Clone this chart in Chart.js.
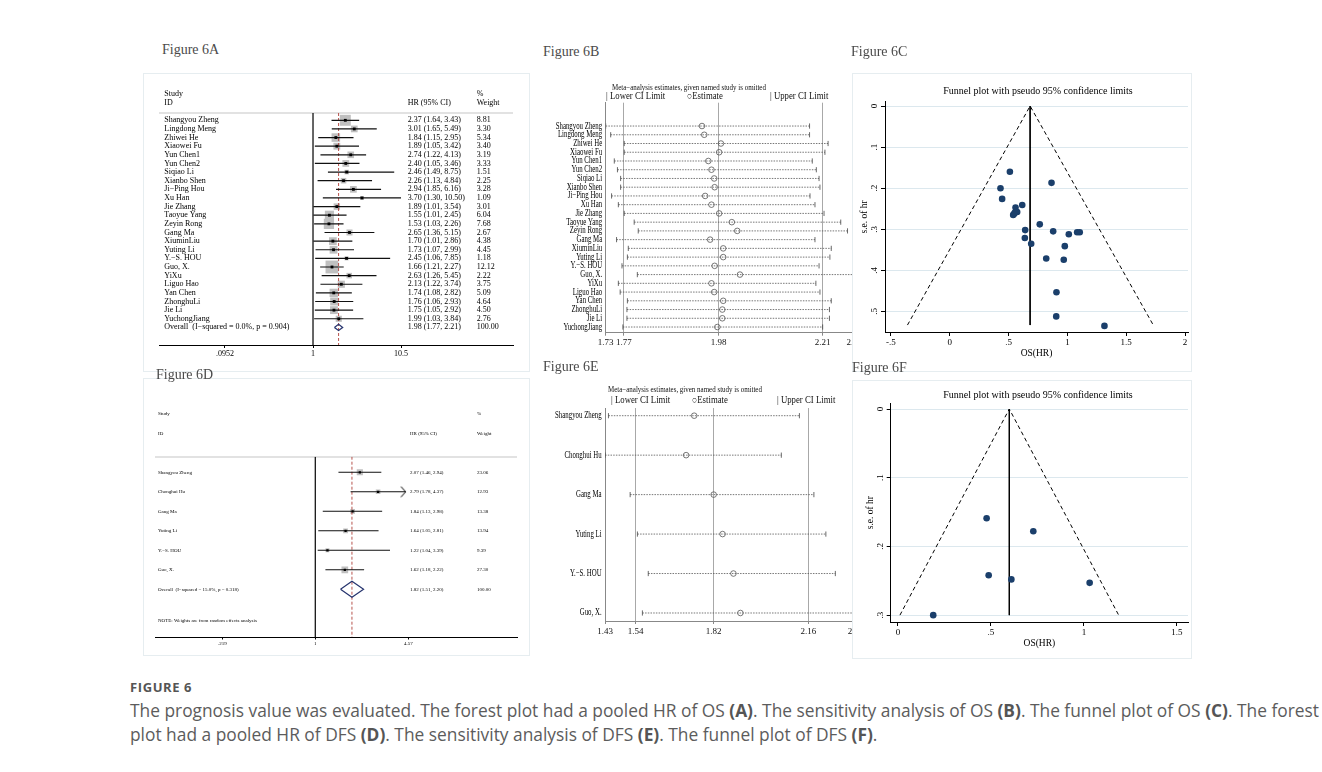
<!DOCTYPE html>
<html>
<head>
<meta charset="utf-8">
<title>Figure 6</title>
<script src="https://cdn.jsdelivr.net/npm/chart.js@4.4.1/dist/chart.umd.min.js"></script>
<style>
  html, body { margin: 0; padding: 0; background: #fff; }
  body { position: relative; width: 1322px; height: 772px; overflow: hidden; }
  .box { position: absolute; border: 1.5px solid #e6edf0; box-sizing: border-box; background: #fff; }
  canvas { position: absolute; }
  .t { position: absolute; white-space: nowrap; line-height: 1; font-family: "Liberation Serif", "Times New Roman", serif; color: #000; transform: translateY(-50%); transform-origin: 0 50%; z-index: 5; }
  .rule { position: absolute; background: #e2e2e2; height: 2px; }
  .cap { position: absolute; left: 130px; font-family: "Open Sans", sans-serif; color: #5c5c5c; white-space: nowrap; line-height: 1; }
  .cap b { font-weight: 700; color: #555; }
</style>
</head>
<body>
<div class="box" style="left:143px;top:73px;width:387px;height:299px"></div>
<div class="rule" style="left:159px;top:112px;width:354px"></div>
<canvas id="chartA" width="387" height="299" style="left:143px;top:73px"></canvas>

<div class="box" style="left:143px;top:378px;width:387px;height:278px"></div>
<div class="rule" style="left:155px;top:456px;width:362px"></div>
<canvas id="chartD" width="387" height="278" style="left:143px;top:378px"></canvas>

<canvas id="chartB" width="330" height="299" style="left:540px;top:73px"></canvas>
<canvas id="chartE" width="330" height="270" style="left:540px;top:380px"></canvas>

<div class="box" style="left:852px;top:73px;width:340px;height:299px"></div>
<canvas id="chartC" width="340" height="299" style="left:852px;top:73px"></canvas>
<div class="box" style="left:852px;top:380px;width:340px;height:279px"></div>
<canvas id="chartF" width="340" height="279" style="left:852px;top:380px"></canvas>

<div class="cap" style="top:681px;font-size:13px;font-weight:700;letter-spacing:0.6px;color:#555">FIGURE 6</div>
<div class="cap" style="top:702px;font-size:17.35px">The prognosis value was evaluated. The forest plot had a pooled HR of OS <b>(A)</b>. The sensitivity analysis of OS <b>(B)</b>. The funnel plot of OS <b>(C)</b>. The forest</div>
<div class="cap" style="top:726px;font-size:17.35px">plot had a pooled HR of DFS <b>(D)</b>. The sensitivity analysis of DFS <b>(E)</b>. The funnel plot of DFS <b>(F)</b>.</div>

<script>
const serif = '"Liberation Serif", "Times New Roman", serif';

// ---- Figure 6A: forest plot, OS ----
const osStudies = ['Shangyou Zheng', 'Lingdong Meng', 'Zhiwei He', 'Xiaowei Fu', 'Yun Chen1', 'Yun Chen2', 'Siqiao Li', 'Xianbo Shen',
  'Ji\u2212Ping Hou', 'Xu Han', 'Jie Zhang', 'Taoyue Yang', 'Zeyin Rong', 'Gang Ma', 'XiuminLiu', 'Yuting Li', 'Y.\u2212S. HOU',
  'Guo, X.', 'YiXu', 'Liguo Hao', 'Yan Chen', 'ZhonghuLi', 'Jie Li', 'YuchongJiang'];
const osHr = [2.37, 3.01, 1.84, 1.89, 2.74, 2.40, 2.46, 2.26, 2.94, 3.70, 1.89, 1.55, 1.53, 2.65, 1.70, 1.73, 2.45, 1.66, 2.63, 2.13, 1.74, 1.76, 1.75, 1.99];
const osLo = [1.64, 1.65, 1.15, 1.05, 1.22, 1.05, 1.49, 1.13, 1.85, 1.30, 1.01, 1.01, 1.03, 1.36, 1.01, 1.07, 1.06, 1.21, 1.26, 1.22, 1.08, 1.06, 1.05, 1.03];
const osHi = [3.43, 5.49, 2.95, 3.42, 4.13, 3.46, 8.75, 4.84, 6.16, 10.50, 3.54, 2.45, 2.26, 5.15, 2.86, 2.99, 7.85, 2.27, 5.45, 3.74, 2.82, 2.93, 2.92, 3.84];
const osWeight = [8.81, 3.30, 5.34, 3.40, 3.19, 3.33, 1.51, 2.25, 3.28, 1.09, 3.01, 6.04, 7.68, 2.67, 4.38, 4.45, 1.18, 12.12, 2.22, 3.75, 5.09, 4.64, 4.50, 2.76];
const osOverall = [1.98, 1.77, 2.21];
const osTicks = [0.0952, 1, 10.5];
const osTickLabels = ['.0952', '1', '10.5'];

// ---- Figure 6B: leave-one-out, OS ----
const osLooLo = [1.730, 1.741, 1.771, 1.771, 1.749, 1.756, 1.763, 1.763, 1.743, 1.758, 1.771, 1.793, 1.802, 1.754, 1.780, 1.778, 1.766, 1.800, 1.758, 1.762, 1.778, 1.777, 1.777, 1.768];
const osLooEst = [1.943, 1.948, 1.985, 1.981, 1.957, 1.964, 1.970, 1.971, 1.950, 1.964, 1.981, 2.009, 2.021, 1.961, 1.990, 1.990, 1.971, 2.027, 1.964, 1.970, 1.990, 1.988, 1.988, 1.977];
const osLooHi = [2.181, 2.181, 2.222, 2.215, 2.187, 2.196, 2.202, 2.204, 2.182, 2.193, 2.213, 2.250, 2.265, 2.193, 2.229, 2.226, 2.202, 2.280, 2.195, 2.204, 2.229, 2.225, 2.225, 2.210];
const osLooTicks = [1.73, 1.77, 1.98, 2.21, 2.28];
const osLooGrid = [1.77, 1.98, 2.21];

// ---- Figure 6C: funnel plot, OS ----
const osFunnelX = [0.865, 1.105, 0.616, 0.641, 1.012, 0.879, 0.907, 0.820, 1.083, 1.315, 0.638, 0.445, 0.431, 0.978, 0.539, 0.548, 0.905, 0.511, 0.969, 0.765, 0.559, 0.573, 0.553, 0.692];
const osFunnelSe = [0.187, 0.307, 0.241, 0.302, 0.312, 0.305, 0.453, 0.371, 0.307, 0.535, 0.321, 0.226, 0.200, 0.341, 0.265, 0.262, 0.512, 0.160, 0.374, 0.288, 0.247, 0.258, 0.259, 0.335];
const osLimitX = [-0.36, 0.683, 1.73];
const osLimitSe = [0.533, 0, 0.533];
const osFunnelXTicks = [-0.5, 0, 0.5, 1, 1.5, 2];
const osFunnelYTicks = [0, 0.1, 0.2, 0.3, 0.4, 0.5];

// ---- Figure 6D: forest plot, DFS ----
const dfsStudies = ['Shangyou Zheng', 'Chonghui Hu', 'Gang Ma', 'Yuting Li', 'Y.\u2212S. HOU', 'Guo, X.'];
const dfsHr = [2.07, 2.79, 1.84, 1.64, 1.22, 1.62];
const dfsLo = [1.46, 1.78, 1.13, 1.05, 1.04, 1.18];
const dfsHi = [2.94, 4.37, 2.98, 2.81, 3.39, 2.22];
const dfsWeight = [23.06, 12.93, 13.38, 13.94, 9.39, 27.30];
const dfsOverall = [1.82, 1.51, 2.20];
const dfsTicks = [0.219, 1, 4.57];
const dfsTickLabels = ['.219', '1', '4.57'];

// ---- Figure 6E: leave-one-out, DFS ----
const dfsLooLo = [1.442, 1.430, 1.520, 1.546, 1.585, 1.564];
const dfsLooEst = [1.750, 1.721, 1.820, 1.852, 1.891, 1.916];
const dfsLooHi = [2.128, 2.063, 2.180, 2.223, 2.257, 2.330];
const dfsLooTicks = [1.43, 1.54, 1.82, 2.16, 2.33];
const dfsLooGrid = [1.54, 1.82, 2.16];

// ---- Figure 6F: funnel plot, DFS ----
const dfsFunnelX = [0.477, 0.728, 0.488, 0.610, 1.031, 0.190];
const dfsFunnelSe = [0.159, 0.178, 0.242, 0.248, 0.253, 0.300];
const dfsLimitX = [0.011, 0.599, 1.187];
const dfsLimitSe = [0.30, 0, 0.30];
const dfsFunnelXTicks = [0, 0.5, 1, 1.5];
const dfsFunnelYTicks = [0, 0.1, 0.2, 0.3];

Chart.defaults.font.family = serif;
Chart.defaults.color = '#000';

function text(str, x, y, size, extra) {
  const d = document.createElement('div');
  d.className = 't';
  d.textContent = str;
  d.style.left = x + 'px';
  d.style.top = y + 'px';
  d.style.fontSize = size + 'px';
  if (extra) Object.assign(d.style, extra);
  document.body.appendChild(d);
}

function fmtCI(hr, lo, hi) {
  return hr.toFixed(2) + ' (' + lo.toFixed(2) + ', ' + hi.toFixed(2) + ')';
}

function stataNum(v) {
  return v === 0 ? '0' : String(v).replace(/^(-?)0\./, '$1.');
}

// text columns that follow the rows of the y scale
function rowText(rows, cols, font, sx) {
  return {
    id: 'rowText',
    afterDatasetsDraw(chart) {
      const ctx = chart.ctx, ys = chart.scales.y;
      ctx.save();
      ctx.font = font;
      ctx.fillStyle = '#000';
      ctx.textBaseline = 'middle';
      rows.forEach((cells, i) => {
        const py = ys.getPixelForValue(i);
        cells.forEach((txt, c) => {
          ctx.save();
          ctx.translate(cols[c].x, py);
          ctx.scale(sx || 1, 1);
          ctx.textAlign = cols[c].align || 'left';
          ctx.fillText(txt, 0, 0);
          ctx.restore();
        });
      });
      ctx.restore();
    }
  };
}

function chevron() {
  const c = document.createElement('canvas');
  c.width = 12; c.height = 12;
  const g = c.getContext('2d');
  g.strokeStyle = '#000';
  g.lineWidth = 1;
  g.beginPath();
  g.moveTo(1.3, 0.7); g.lineTo(6, 6); g.lineTo(1.3, 11.3);
  g.stroke();
  return c;
}

function renderForest(canvasId, s) {
  const n = s.studies.length;
  const ci = [];
  s.lo.forEach((lo, i) => ci.push({x: lo, y: i}, {x: s.hi[i], y: i}, {x: s.hi[i], y: null}));
  const ov = s.overall;
  const diamond = [{x: ov[1], y: n}, {x: ov[0], y: n - s.dh}, {x: ov[2], y: n}, {x: ov[0], y: n + s.dh}, {x: ov[1], y: n}];
  const centers = s.hr.map((v, i) => ({x: v, y: i}));
  const rows = s.studies.map((name, i) => [name, fmtCI(s.hr[i], s.lo[i], s.hi[i]), s.weight[i].toFixed(2)]);
  rows.push([s.overallLabel, fmtCI(ov[0], ov[1], ov[2]), '100.00']);

  const datasets = [
    {type: 'line', data: diamond, borderColor: '#26346e', borderWidth: 1.2, pointRadius: 0, order: 0},
    {type: 'scatter', data: centers, pointStyle: 'rect', pointRadius: s.dot, pointBackgroundColor: '#000', pointBorderWidth: 0, order: 1},
    {type: 'line', data: ci, borderColor: '#111', borderWidth: s.lw, pointRadius: 0, spanGaps: false, order: 2},
    {type: 'line', data: [{x: ov[0], y: s.yMin}, {x: ov[0], y: s.yMax}], borderColor: '#b0403a', borderWidth: 0.9, borderDash: [3, 2], pointRadius: 0, order: 3},
    {type: 'scatter', data: centers, pointStyle: 'rect', pointRadius: s.weight.map(w => s.box * Math.sqrt(w) / Math.SQRT2), pointBackgroundColor: '#c0c0c0', pointBorderWidth: 0, order: 4},
    {type: 'line', data: [{x: 1, y: s.yMin}, {x: 1, y: s.yMax}], borderColor: '#000', borderWidth: 1.2, pointRadius: 0, order: 5}
  ];
  if (s.arrows) {
    datasets.push({type: 'scatter', data: s.arrows.map(i => ({x: s.hi[i], y: i})), pointStyle: chevron(), order: 0});
  }

  new Chart(document.getElementById(canvasId), {
    type: 'scatter',
    data: {datasets: datasets},
    options: {
      responsive: false, animation: false, devicePixelRatio: 1, events: [],
      layout: {padding: s.padding},
      plugins: {legend: {display: false}, tooltip: {enabled: false}},
      scales: {
        x: {
          type: 'logarithmic', min: s.xMin, max: s.xMax, bounds: 'data',
          afterBuildTicks: sc => { sc.ticks = s.ticks.map(v => ({value: v})); },
          afterFit: sc => { sc.height = s.axisH; },
          ticks: {autoSkip: false, maxRotation: 0, padding: s.tickPad, color: '#000', font: {family: serif, size: s.fs},
            callback: (v, i) => s.tickLabels[i]},
          grid: {drawOnChartArea: false, drawTicks: true, tickLength: s.tickLen, color: '#000'},
          border: {display: true, color: '#000', width: 1}
        },
        y: {type: 'linear', display: false, reverse: true, min: s.yMin, max: s.yMax}
      }
    },
    plugins: [rowText(rows, s.cols, s.fs + 'px ' + serif, 1)]
  });
}

function renderSensitivity(canvasId, s) {
  const link = [];
  s.lo.forEach((lo, i) => link.push({x: lo, y: i}, {x: s.hi[i], y: i}, {x: s.hi[i], y: null}));
  const rows = s.studies.map(name => [name]);
  new Chart(document.getElementById(canvasId), {
    type: 'scatter',
    data: {
      datasets: [
        {label: 'Estimate', data: s.est.map((v, i) => ({x: v, y: i})), pointStyle: 'circle', pointRadius: 2.8,
          pointBorderColor: '#555', pointBorderWidth: 0.8, pointBackgroundColor: 'rgba(0,0,0,0)', order: 0},
        {label: 'Lower CI Limit', data: s.lo.map((v, i) => ({x: v, y: i})), pointStyle: 'line', pointRotation: 90, pointRadius: 2.6,
          pointBorderColor: '#444', pointBorderWidth: 0.8, order: 1},
        {label: 'Upper CI Limit', data: s.hi.map((v, i) => ({x: v, y: i})), pointStyle: 'line', pointRotation: 90, pointRadius: 2.6,
          pointBorderColor: '#444', pointBorderWidth: 0.8, order: 1},
        {type: 'line', data: link, borderColor: '#555', borderWidth: 0.8, borderDash: [1.5, 1.2], pointRadius: 0, spanGaps: false, order: 2}
      ]
    },
    options: {
      responsive: false, animation: false, devicePixelRatio: 1, events: [],
      layout: {padding: s.padding},
      plugins: {legend: {display: false}, tooltip: {enabled: false}},
      scales: {
        x: {
          type: 'linear', min: s.xMin, max: s.xMax, bounds: 'data',
          afterBuildTicks: sc => { sc.ticks = s.ticks.map(v => ({value: v})); },
          afterFit: sc => { sc.height = s.axisH; },
          ticks: {autoSkip: false, maxRotation: 0, padding: s.tickPad, color: '#111', font: {family: serif, size: 9},
            callback: v => v.toFixed(2)},
          grid: {color: c => (c.tick && s.grid.includes(c.tick.value)) ? '#a8a8a8' : 'rgba(0,0,0,0)',
            drawTicks: true, tickLength: 3, tickColor: '#888'},
          border: {display: true, color: '#888'}
        },
        y: {
          type: 'linear', reverse: true, min: s.yMin, max: s.yMax,
          afterFit: sc => { sc.width = s.axisW; },
          ticks: {display: false},
          grid: {display: false},
          border: {display: true, color: '#888'}
        }
      }
    },
    plugins: [rowText(rows, [{x: s.axisW - 3.5, align: 'right'}], '9.5px ' + serif, 0.72)]
  });
}

function renderFunnel(canvasId, s) {
  new Chart(document.getElementById(canvasId), {
    type: 'scatter',
    data: {
      datasets: [
        {data: s.x.map((v, i) => ({x: v, y: s.se[i]})), pointRadius: 3.3, pointBackgroundColor: '#1b3f6b', pointBorderWidth: 0, order: 0},
        {type: 'line', data: [{x: s.limX[1], y: s.limSe[1]}, {x: s.limX[1], y: s.limSe[0]}], borderColor: '#000', borderWidth: 1, pointRadius: 0, order: 1},
        {type: 'line', data: s.limX.map((v, i) => ({x: v, y: s.limSe[i]})), borderColor: '#000', borderWidth: 1, borderDash: [4, 3], pointRadius: 0, order: 1}
      ]
    },
    options: {
      responsive: false, animation: false, devicePixelRatio: 1, events: [],
      layout: {padding: s.padding},
      plugins: {legend: {display: false}, tooltip: {enabled: false}},
      scales: {
        x: {
          type: 'linear', min: s.xMin, max: s.xMax, bounds: 'data',
          afterBuildTicks: sc => { sc.ticks = s.xTicks.map(v => ({value: v})); },
          afterFit: sc => { sc.height = s.axisH; },
          ticks: {autoSkip: false, maxRotation: 0, padding: 1, color: '#000', font: {family: serif, size: 9}, callback: v => stataNum(v)},
          grid: {drawOnChartArea: false, drawTicks: true, tickLength: 4, tickColor: '#000'},
          border: {display: true, color: '#000'},
          title: {display: true, text: 'OS(HR)', color: '#000', font: {family: serif, size: 9.5}, padding: {top: 0, bottom: s.xTitlePad}}
        },
        y: {
          type: 'linear', reverse: true, min: s.yMin, max: s.yMax, bounds: 'data',
          afterBuildTicks: sc => { sc.ticks = s.yTicks.map(v => ({value: v})); },
          afterFit: sc => { sc.width = s.axisW; },
          ticks: {autoSkip: false, minRotation: 90, maxRotation: 90, crossAlign: 'center', padding: 2.5, color: '#000',
            font: {family: serif, size: 9}, callback: v => stataNum(v)},
          grid: {color: '#dce8ee', drawTicks: true, tickLength: 4, tickColor: '#000'},
          border: {display: true, color: '#000'},
          title: {display: true, text: 's.e. of hr', color: '#000', font: {family: serif, size: 9.5}, padding: {top: s.yTitlePad, bottom: 0}}
        }
      }
    }
  });
}

renderForest('chartA', {
  studies: osStudies, hr: osHr, lo: osLo, hi: osHi, weight: osWeight, overall: osOverall,
  overallLabel: 'Overall  (I\u2212squared = 0.0%, p = 0.904)',
  ticks: osTicks, tickLabels: osTickLabels,
  xMin: 0.01634, xMax: 209.0, yMin: -0.846, yMax: 26.04,
  padding: {left: 16, right: 17, top: 40, bottom: 7}, axisH: 20,
  fs: 8, tickLen: 3, tickPad: 1, lw: 1.2, dot: 2, box: 3.7, dh: 0.36,
  cols: [{x: 21.3}, {x: 264.7}, {x: 333.7}]
});

renderForest('chartD', {
  studies: dfsStudies, hr: dfsHr, lo: dfsLo, hi: dfsHi, weight: dfsWeight, overall: dfsOverall,
  overallLabel: 'Overall  (I\u2212squared = 15.0%, p = 0.318)',
  ticks: dfsTicks, tickLabels: dfsTickLabels, arrows: [1],
  xMin: 0.0730, xMax: 26.95, yMin: -0.8, yMax: 8.446,
  padding: {left: 12, right: 13, top: 78.7, bottom: 3}, axisH: 16,
  fs: 5, tickLen: 2.5, tickPad: 1.5, lw: 1.1, dot: 1.6, box: 1.28, dh: 0.41,
  cols: [{x: 15}, {x: 267}, {x: 334}]
});

renderSensitivity('chartB', {
  studies: osStudies, lo: osLooLo, est: osLooEst, hi: osLooHi, ticks: osLooTicks, grid: osLooGrid,
  xMin: 1.73, xMax: 2.2926, yMin: -2.67, yMax: 23.65,
  padding: {left: 0, right: 10, top: 29.7, bottom: 17.3}, axisW: 65.7, axisH: 22, tickPad: 2
});

renderSensitivity('chartE', {
  studies: dfsStudies, lo: dfsLooLo, est: dfsLooEst, hi: dfsLooHi, ticks: dfsLooTicks, grid: dfsLooGrid,
  xMin: 1.43, xMax: 2.3456, yMin: -0.195, yMax: 5.203,
  padding: {left: 0, right: 10, top: 28, bottom: 5}, axisW: 65.1, axisH: 24, tickPad: 2.5
});

renderFunnel('chartC', {
  x: osFunnelX, se: osFunnelSe, limX: osLimitX, limSe: osLimitSe, xTicks: osFunnelXTicks, yTicks: osFunnelYTicks,
  xMin: -0.551, xMax: 2.0255, yMin: -0.0105, yMax: 0.5499,
  padding: {left: 0, right: 4, top: 28.7, bottom: 0}, axisW: 33, axisH: 40, xTitlePad: 13, yTitlePad: 7
});

renderFunnel('chartF', {
  x: dfsFunnelX, se: dfsFunnelSe, limX: dfsLimitX, limSe: dfsLimitSe, xTicks: dfsFunnelXTicks, yTicks: dfsFunnelYTicks,
  xMin: -0.0387, xMax: 1.5597, yMin: -0.0083, yMax: 0.310,
  padding: {left: 0, right: 4, top: 23.3, bottom: 0}, axisW: 38.7, axisH: 37, xTitlePad: 10, yTitlePad: 12.7
});

// panel labels, headers, titles
text('Figure 6A', 162, 50, 14, {color: '#4a4a4a'});
text('Figure 6B', 543, 52, 14, {color: '#4a4a4a'});
text('Figure 6C', 851, 52, 14, {color: '#4a4a4a'});
text('Figure 6D', 156, 375, 14, {color: '#4a4a4a'});
text('Figure 6E', 543, 367, 14, {color: '#4a4a4a'});
text('Figure 6F', 852, 368, 14, {color: '#4a4a4a'});

text('Study', 164.3, 94, 8);
text('ID', 164.3, 103, 8);
text('HR (95% CI)', 407.7, 103, 8);
text('%', 476.7, 94, 8);
text('Weight', 476.7, 103, 8);

text('Study', 158, 413, 5);
text('ID', 158, 432.7, 5);
text('HR (95% CI)', 410, 432.7, 5);
text('%', 477, 413, 5);
text('Weight', 477, 432.7, 5);
text('NOTE: Weights are from random effects analysis', 158, 620, 5);

const squeeze = {transform: 'translateY(-50%) scaleX(0.82)', color: '#111'};
const legendTxt = {transform: 'translateY(-50%) scaleX(0.92)', color: '#111'};
text('Meta\u2212analysis estimates, given named study is omitted', 612, 87, 8.5, squeeze);
text('| Lower CI Limit', 606, 97, 9.5, legendTxt);
text('\u25CBEstimate', 687, 97, 9.5, legendTxt);
text('| Upper CI Limit', 770, 97, 9.5, legendTxt);
text('Meta\u2212analysis estimates, given named study is omitted', 608, 389, 8.5, squeeze);
text('| Lower CI Limit', 610.7, 400.7, 9.5, legendTxt);
text('\u25CBEstimate', 691.7, 400.7, 9.5, legendTxt);
text('| Upper CI Limit', 777.3, 400.7, 9.5, legendTxt);

const centred = {transform: 'translate(-50%, -50%)'};
text('Funnel plot with pseudo 95% confidence limits', 1038, 90.7, 10, centred);
text('Funnel plot with pseudo 95% confidence limits', 1038, 395, 10, centred);
</script>
</body>
</html>
